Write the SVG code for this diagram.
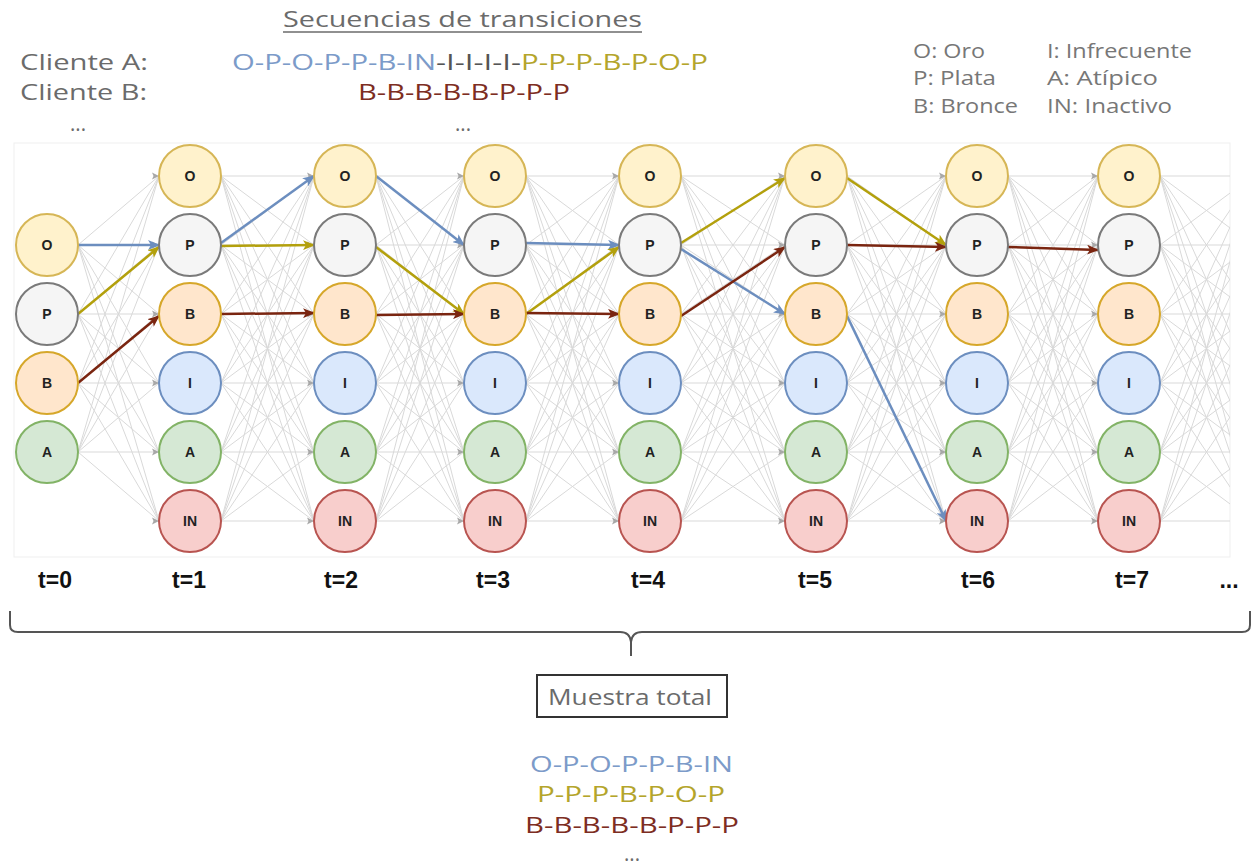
<svg xmlns="http://www.w3.org/2000/svg" xmlns:xlink="http://www.w3.org/1999/xlink" width="1256" height="867" viewBox="0 0 1256 867">
<style>
.txt{font-family:"Open Sans","Liberation Sans",sans-serif;font-size:22px;fill:#6b6b6b}
.leg{font-family:"Open Sans","Liberation Sans",sans-serif;font-size:20px;fill:#777}
.blue{fill:#7c9bc9}.olive{fill:#b4a52b}.brown{fill:#7d2d22}.dark{fill:#555}
.nl{font-family:"Liberation Sans",Arial,sans-serif;font-weight:bold;font-size:14px;fill:#222;text-anchor:middle}
.tl{font-family:"Liberation Sans",Arial,sans-serif;font-weight:bold;font-size:23px;fill:#111;text-anchor:middle}
circle{stroke-width:2}
.o{fill:#fff2cc;stroke:#d6b656}.p{fill:#f5f5f5;stroke:#7a7a7a}.b{fill:#ffe6cc;stroke:#d6a72a}
.i{fill:#dae8fc;stroke:#6c8ebf}.a{fill:#d5e8d4;stroke:#82b366}.in{fill:#f8cecc;stroke:#b85450}
.grey{fill:none;stroke:#d9d9d9;stroke-width:1}
.cb{fill:none;stroke:#6c8ebf;stroke-width:2.5;marker-end:url(#mb)}
.co{fill:none;stroke:#b3a00c;stroke-width:2.5;marker-end:url(#mo)}
.cr{fill:none;stroke:#7a2510;stroke-width:2.5;marker-end:url(#mr)}
</style>
<defs>
<path id="fan6" vector-effect="non-scaling-stroke" d="M0 176L100 176M0 176L100 245M0 176L100 314M0 176L100 383M0 176L100 452M0 176L100 521M0 245L100 176M0 245L100 245M0 245L100 314M0 245L100 383M0 245L100 452M0 245L100 521M0 314L100 176M0 314L100 245M0 314L100 314M0 314L100 383M0 314L100 452M0 314L100 521M0 383L100 176M0 383L100 245M0 383L100 314M0 383L100 383M0 383L100 452M0 383L100 521M0 452L100 176M0 452L100 245M0 452L100 314M0 452L100 383M0 452L100 452M0 452L100 521M0 521L100 176M0 521L100 245M0 521L100 314M0 521L100 383M0 521L100 452M0 521L100 521"/>
<path id="fan4" vector-effect="non-scaling-stroke" d="M0 245L100 176M0 245L100 245M0 245L100 314M0 245L100 383M0 245L100 452M0 245L100 521M0 314L100 176M0 314L100 245M0 314L100 314M0 314L100 383M0 314L100 452M0 314L100 521M0 383L100 176M0 383L100 245M0 383L100 314M0 383L100 383M0 383L100 452M0 383L100 521M0 452L100 176M0 452L100 245M0 452L100 314M0 452L100 383M0 452L100 452M0 452L100 521"/>
<path id="gh" d="M0 0L-7 -3.5L-5.5 0L-7 3.5Z" fill="#a8a8a8"/>
<marker id="mb" markerUnits="userSpaceOnUse" markerWidth="14" markerHeight="10" refX="11" refY="5" orient="auto"><path d="M0 0L12 5L0 10L3 5Z" fill="#6c8ebf"/></marker>
<marker id="mo" markerUnits="userSpaceOnUse" markerWidth="14" markerHeight="10" refX="11" refY="5" orient="auto"><path d="M0 0L12 5L0 10L3 5Z" fill="#b3a00c"/></marker>
<marker id="mr" markerUnits="userSpaceOnUse" markerWidth="14" markerHeight="10" refX="11" refY="5" orient="auto"><path d="M0 0L12 5L0 10L3 5Z" fill="#7a2510"/></marker>
<clipPath id="panelclip"><rect x="14" y="143" width="1216" height="414"/></clipPath>
</defs>
<rect width="1256" height="867" fill="#fff"/>

<g id="header">
<text class="txt" x="283" y="27" textLength="359" lengthAdjust="spacingAndGlyphs">Secuencias de transiciones</text>
<line x1="283" y1="32" x2="642" y2="32" stroke="#6b6b6b" stroke-width="1.3"/>
<text class="txt" x="20" y="70" textLength="128" lengthAdjust="spacingAndGlyphs">Cliente A:</text>
<text class="txt" x="20" y="100" textLength="127" lengthAdjust="spacingAndGlyphs">Cliente B:</text>
<text class="txt" x="70" y="131" textLength="16" lengthAdjust="spacingAndGlyphs">...</text>
<text class="txt" x="455" y="131" textLength="16" lengthAdjust="spacingAndGlyphs">...</text>
<text class="txt blue" x="232" y="70" textLength="204" lengthAdjust="spacingAndGlyphs">O-P-O-P-P-B-IN</text>
<text class="txt dark" x="436" y="70" textLength="85" lengthAdjust="spacingAndGlyphs">-I-I-I-I-</text>
<text class="txt olive" x="521" y="70" textLength="187" lengthAdjust="spacingAndGlyphs">P-P-P-B-P-O-P</text>
<text class="txt brown" x="358" y="100" textLength="212" lengthAdjust="spacingAndGlyphs">B-B-B-B-B-P-P-P</text>
</g>

<g id="legend">
<text class="leg" x="913" y="58" textLength="72" lengthAdjust="spacingAndGlyphs">O: Oro</text>
<text class="leg" x="913" y="85" textLength="83" lengthAdjust="spacingAndGlyphs">P: Plata</text>
<text class="leg" x="913" y="113" textLength="105" lengthAdjust="spacingAndGlyphs">B: Bronce</text>
<text class="leg" x="1047" y="58" textLength="145" lengthAdjust="spacingAndGlyphs">I: Infrecuente</text>
<text class="leg" x="1047" y="85" textLength="111" lengthAdjust="spacingAndGlyphs">A: Atípico</text>
<text class="leg" x="1047" y="113" textLength="125" lengthAdjust="spacingAndGlyphs">IN: Inactivo</text>
</g>

<rect id="panel" x="14" y="143" width="1216" height="414" fill="#fff" stroke="#efefef" stroke-width="1"/>

<g id="connectors">
<g class="grey" clip-path="url(#panelclip)">
<use xlink:href="#fan4" transform="translate(78 0) scale(0.81 1)"/>
<use xlink:href="#fan6" transform="translate(221 0) scale(0.93 1)"/>
<use xlink:href="#fan6" transform="translate(376 0) scale(0.88 1)"/>
<use xlink:href="#fan6" transform="translate(526 0) scale(0.93 1)"/>
<use xlink:href="#fan6" transform="translate(681 0) scale(1.04 1)"/>
<use xlink:href="#fan6" transform="translate(847 0) scale(0.99 1)"/>
<use xlink:href="#fan6" transform="translate(1008 0) scale(0.90 1)"/>
<use xlink:href="#fan6" transform="translate(1160 0) scale(0.93 1)"/>
</g>
<g id="grey-heads">
<use xlink:href="#gh" x="159" y="176"/><use xlink:href="#gh" x="159" y="245"/><use xlink:href="#gh" x="159" y="314"/><use xlink:href="#gh" x="159" y="383"/><use xlink:href="#gh" x="159" y="452"/><use xlink:href="#gh" x="159" y="521"/>
<use xlink:href="#gh" x="314" y="176"/><use xlink:href="#gh" x="314" y="245"/><use xlink:href="#gh" x="314" y="314"/><use xlink:href="#gh" x="314" y="383"/><use xlink:href="#gh" x="314" y="452"/><use xlink:href="#gh" x="314" y="521"/>
<use xlink:href="#gh" x="464" y="176"/><use xlink:href="#gh" x="464" y="245"/><use xlink:href="#gh" x="464" y="314"/><use xlink:href="#gh" x="464" y="383"/><use xlink:href="#gh" x="464" y="452"/><use xlink:href="#gh" x="464" y="521"/>
<use xlink:href="#gh" x="619" y="176"/><use xlink:href="#gh" x="619" y="245"/><use xlink:href="#gh" x="619" y="314"/><use xlink:href="#gh" x="619" y="383"/><use xlink:href="#gh" x="619" y="452"/><use xlink:href="#gh" x="619" y="521"/>
<use xlink:href="#gh" x="785" y="176"/><use xlink:href="#gh" x="785" y="245"/><use xlink:href="#gh" x="785" y="314"/><use xlink:href="#gh" x="785" y="383"/><use xlink:href="#gh" x="785" y="452"/><use xlink:href="#gh" x="785" y="521"/>
<use xlink:href="#gh" x="946" y="176"/><use xlink:href="#gh" x="946" y="245"/><use xlink:href="#gh" x="946" y="314"/><use xlink:href="#gh" x="946" y="383"/><use xlink:href="#gh" x="946" y="452"/><use xlink:href="#gh" x="946" y="521"/>
<use xlink:href="#gh" x="1098" y="176"/><use xlink:href="#gh" x="1098" y="245"/><use xlink:href="#gh" x="1098" y="314"/><use xlink:href="#gh" x="1098" y="383"/><use xlink:href="#gh" x="1098" y="452"/><use xlink:href="#gh" x="1098" y="521"/>
</g>
<g id="path-blue">
<line class="cb" x1="78" y1="245" x2="159" y2="245"/>
<line class="cb" x1="221" y1="243" x2="314" y2="176"/>
<line class="cb" x1="376" y1="176" x2="464" y2="245"/>
<line class="cb" x1="526" y1="243" x2="619" y2="245"/>
<line class="cb" x1="681" y1="249" x2="785" y2="314"/>
<line class="cb" x1="847" y1="316" x2="946" y2="521"/>
</g>
<g id="path-olive">
<line class="co" x1="78" y1="314" x2="159" y2="247"/>
<line class="co" x1="221" y1="246" x2="314" y2="245"/>
<line class="co" x1="376" y1="247" x2="464" y2="314"/>
<line class="co" x1="526" y1="314" x2="619" y2="247"/>
<line class="co" x1="681" y1="243" x2="785" y2="178"/>
<line class="co" x1="847" y1="178" x2="946" y2="245"/>
</g>
<g id="path-brown">
<line class="cr" x1="78" y1="383" x2="159" y2="316"/>
<line class="cr" x1="221" y1="314" x2="314" y2="313"/>
<line class="cr" x1="376" y1="315" x2="464" y2="314"/>
<line class="cr" x1="526" y1="313" x2="619" y2="314"/>
<line class="cr" x1="681" y1="316" x2="785" y2="247"/>
<line class="cr" x1="847" y1="245" x2="946" y2="247"/>
<line class="cr" x1="1008" y1="247" x2="1098" y2="250"/>
</g>
</g>

<g id="col0">
<g id="c0-O"><circle class="o" cx="47" cy="245" r="31"/><text class="nl" x="47" y="250">O</text></g>
<g id="c0-P"><circle class="p" cx="47" cy="314" r="31"/><text class="nl" x="47" y="319">P</text></g>
<g id="c0-B"><circle class="b" cx="47" cy="383" r="31"/><text class="nl" x="47" y="388">B</text></g>
<g id="c0-A"><circle class="a" cx="47" cy="452" r="31"/><text class="nl" x="47" y="457">A</text></g>
</g>
<g id="col1">
<g id="c1-O"><circle class="o" cx="190" cy="176" r="31"/><text class="nl" x="190" y="181">O</text></g>
<g id="c1-P"><circle class="p" cx="190" cy="245" r="31"/><text class="nl" x="190" y="250">P</text></g>
<g id="c1-B"><circle class="b" cx="190" cy="314" r="31"/><text class="nl" x="190" y="319">B</text></g>
<g id="c1-I"><circle class="i" cx="190" cy="383" r="31"/><text class="nl" x="190" y="388">I</text></g>
<g id="c1-A"><circle class="a" cx="190" cy="452" r="31"/><text class="nl" x="190" y="457">A</text></g>
<g id="c1-IN"><circle class="in" cx="190" cy="521" r="31"/><text class="nl" x="190" y="526">IN</text></g>
</g>
<g id="col2">
<g id="c2-O"><circle class="o" cx="345" cy="176" r="31"/><text class="nl" x="345" y="181">O</text></g>
<g id="c2-P"><circle class="p" cx="345" cy="245" r="31"/><text class="nl" x="345" y="250">P</text></g>
<g id="c2-B"><circle class="b" cx="345" cy="314" r="31"/><text class="nl" x="345" y="319">B</text></g>
<g id="c2-I"><circle class="i" cx="345" cy="383" r="31"/><text class="nl" x="345" y="388">I</text></g>
<g id="c2-A"><circle class="a" cx="345" cy="452" r="31"/><text class="nl" x="345" y="457">A</text></g>
<g id="c2-IN"><circle class="in" cx="345" cy="521" r="31"/><text class="nl" x="345" y="526">IN</text></g>
</g>
<g id="col3">
<g id="c3-O"><circle class="o" cx="495" cy="176" r="31"/><text class="nl" x="495" y="181">O</text></g>
<g id="c3-P"><circle class="p" cx="495" cy="245" r="31"/><text class="nl" x="495" y="250">P</text></g>
<g id="c3-B"><circle class="b" cx="495" cy="314" r="31"/><text class="nl" x="495" y="319">B</text></g>
<g id="c3-I"><circle class="i" cx="495" cy="383" r="31"/><text class="nl" x="495" y="388">I</text></g>
<g id="c3-A"><circle class="a" cx="495" cy="452" r="31"/><text class="nl" x="495" y="457">A</text></g>
<g id="c3-IN"><circle class="in" cx="495" cy="521" r="31"/><text class="nl" x="495" y="526">IN</text></g>
</g>
<g id="col4">
<g id="c4-O"><circle class="o" cx="650" cy="176" r="31"/><text class="nl" x="650" y="181">O</text></g>
<g id="c4-P"><circle class="p" cx="650" cy="245" r="31"/><text class="nl" x="650" y="250">P</text></g>
<g id="c4-B"><circle class="b" cx="650" cy="314" r="31"/><text class="nl" x="650" y="319">B</text></g>
<g id="c4-I"><circle class="i" cx="650" cy="383" r="31"/><text class="nl" x="650" y="388">I</text></g>
<g id="c4-A"><circle class="a" cx="650" cy="452" r="31"/><text class="nl" x="650" y="457">A</text></g>
<g id="c4-IN"><circle class="in" cx="650" cy="521" r="31"/><text class="nl" x="650" y="526">IN</text></g>
</g>
<g id="col5">
<g id="c5-O"><circle class="o" cx="816" cy="176" r="31"/><text class="nl" x="816" y="181">O</text></g>
<g id="c5-P"><circle class="p" cx="816" cy="245" r="31"/><text class="nl" x="816" y="250">P</text></g>
<g id="c5-B"><circle class="b" cx="816" cy="314" r="31"/><text class="nl" x="816" y="319">B</text></g>
<g id="c5-I"><circle class="i" cx="816" cy="383" r="31"/><text class="nl" x="816" y="388">I</text></g>
<g id="c5-A"><circle class="a" cx="816" cy="452" r="31"/><text class="nl" x="816" y="457">A</text></g>
<g id="c5-IN"><circle class="in" cx="816" cy="521" r="31"/><text class="nl" x="816" y="526">IN</text></g>
</g>
<g id="col6">
<g id="c6-O"><circle class="o" cx="977" cy="176" r="31"/><text class="nl" x="977" y="181">O</text></g>
<g id="c6-P"><circle class="p" cx="977" cy="245" r="31"/><text class="nl" x="977" y="250">P</text></g>
<g id="c6-B"><circle class="b" cx="977" cy="314" r="31"/><text class="nl" x="977" y="319">B</text></g>
<g id="c6-I"><circle class="i" cx="977" cy="383" r="31"/><text class="nl" x="977" y="388">I</text></g>
<g id="c6-A"><circle class="a" cx="977" cy="452" r="31"/><text class="nl" x="977" y="457">A</text></g>
<g id="c6-IN"><circle class="in" cx="977" cy="521" r="31"/><text class="nl" x="977" y="526">IN</text></g>
</g>
<g id="col7">
<g id="c7-O"><circle class="o" cx="1129" cy="176" r="31"/><text class="nl" x="1129" y="181">O</text></g>
<g id="c7-P"><circle class="p" cx="1129" cy="245" r="31"/><text class="nl" x="1129" y="250">P</text></g>
<g id="c7-B"><circle class="b" cx="1129" cy="314" r="31"/><text class="nl" x="1129" y="319">B</text></g>
<g id="c7-I"><circle class="i" cx="1129" cy="383" r="31"/><text class="nl" x="1129" y="388">I</text></g>
<g id="c7-A"><circle class="a" cx="1129" cy="452" r="31"/><text class="nl" x="1129" y="457">A</text></g>
<g id="c7-IN"><circle class="in" cx="1129" cy="521" r="31"/><text class="nl" x="1129" y="526">IN</text></g>
</g>

<g id="time-labels">
<text class="tl" x="55" y="588">t=0</text>
<text class="tl" x="189" y="588">t=1</text>
<text class="tl" x="341" y="588">t=2</text>
<text class="tl" x="493" y="588">t=3</text>
<text class="tl" x="648" y="588">t=4</text>
<text class="tl" x="815" y="588">t=5</text>
<text class="tl" x="978" y="588">t=6</text>
<text class="tl" x="1132" y="588">t=7</text>
<text class="tl" x="1229" y="588">...</text>
</g>

<g id="brace">
<path d="M10 611L10 625Q10 632 18 632L620 632Q630 632 631 642L631 656M631 642Q632 632 642 632L1242 632Q1250 632 1250 625L1250 611" fill="none" stroke="#555" stroke-width="2"/>
</g>

<g id="total">
<rect x="537" y="675" width="190" height="42" fill="#fff" stroke="#333" stroke-width="2"/>
<text class="txt" x="548" y="705" font-size="25" textLength="164" lengthAdjust="spacingAndGlyphs" fill="#555">Muestra total</text>
</g>

<g id="summary">
<text class="txt blue" x="530" y="772" font-size="24" textLength="203" lengthAdjust="spacingAndGlyphs">O-P-O-P-P-B-IN</text>
<text class="txt olive" x="537" y="802" font-size="24" textLength="188" lengthAdjust="spacingAndGlyphs">P-P-P-B-P-O-P</text>
<text class="txt brown" x="525" y="833" font-size="24" textLength="214" lengthAdjust="spacingAndGlyphs">B-B-B-B-B-P-P-P</text>
<text class="txt" x="624" y="861" textLength="16" lengthAdjust="spacingAndGlyphs" fill="#333">...</text>
</g>
</svg>
